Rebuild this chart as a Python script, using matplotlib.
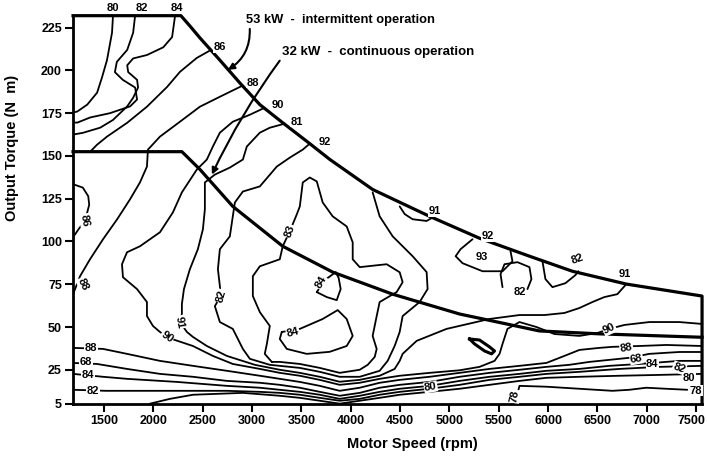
import matplotlib
matplotlib.use("Agg")
import matplotlib.pyplot as plt
from matplotlib.transforms import ScaledTranslation

plt.rcParams["font.family"] = ["Liberation Sans", "DejaVu Sans"]

# ---- axis ticks ----
speed_ticks = [1500, 2000, 2500, 3000, 3500, 4000, 4500, 5000, 5500, 6000, 6500, 7000, 7500]
torque_ticks = [5, 25, 50, 75, 100, 125, 150, 175, 200, 225]

# ---- operating envelopes (rpm, N m) ----
speed_53kw = [1186, 2279, 2370, 2472, 2674, 2876, 3079, 3311, 3585, 3787, 4222, 4799,
              5305, 5811, 6246, 6793, 7177, 7560, 7560]
torque_53kw = [232, 232, 226, 219, 206, 192.7, 180, 169.4, 157.2, 148, 130.4, 114.7,
               101.9, 91.4, 82.6, 75.1, 71.6, 68.1, 5]
speed_32kw = [1186, 2289, 2472, 2805, 3311, 3817, 4424, 5103, 5912, 6520, 7560]
torque_32kw = [152.5, 152.5, 142.1, 120.5, 97.2, 82.1, 69.2, 57.6, 47.7, 46, 44]

# ---- efficiency contours (rpm, N m) ----
c80_top_rpm = [1591, 1581, 1530, 1480, 1430, 1330, 1230, 1186]
c80_top_nm = [232, 222, 206, 196, 187, 180, 176, 175.3]

c82_top_rpm = [1815, 1795, 1735, 1630, 1610, 1690, 1815, 1835, 1765, 1560, 1360, 1230, 1186]
c82_top_nm = [232, 222, 212, 205, 199, 194.5, 190, 183, 179, 175, 172.5, 169.5, 169.5]

c84_top_rpm = [2220, 2190, 2100, 1935, 1795, 1735, 1745, 1835, 1845, 1795, 1735, 1590,
               1460, 1285, 1186]
c84_top_nm = [232, 219.5, 213.5, 209, 207, 203, 199, 194.5, 190, 184, 179, 171, 166.5,
              163.5, 162.5]

c86_top_rpm = [2585, 2440, 2270, 2140, 1935, 1735, 1530, 1430, 1360]
c86_top_nm = [212, 207.3, 199.2, 190.4, 178.8, 169.4, 161.3, 156.6, 152.5]

c86_left_rpm = [1186, 1285, 1340, 1350, 1330, 1305, 1240, 1205, 1186]
c86_left_nm = [133.5, 131.5, 126.5, 121.5, 117, 112, 107, 104, 103]

c88_top_rpm = [2900, 2674, 2472, 2269, 2067, 1945, 1935, 1864, 1763, 1632, 1490, 1358,
               1257, 1207, 1186]
c88_top_nm = [191, 184.6, 178.8, 170, 161.3, 153.7, 143.8, 134.5, 124.6, 112.9, 101.3,
              89.6, 79.7, 72.2, 69.2]

c90_rpm = [3129, 2978, 2805, 2674, 2603, 2542, 2441, 2289, 2198, 2067, 1864, 1733, 1682,
           1692, 1834, 1935, 1935, 1996, 2067, 2138, 2219, 2401, 2603, 2805, 3079, 3281,
           3484, 3686, 3888, 4091, 4293, 4496, 4799, 5103, 5305, 5457, 5508, 5538, 5588,
           5710, 5882, 6064, 6317, 6499, 6621, 6773, 7026, 7329, 7560]
c90_nm = [178.2, 174.1, 170, 163.6, 155.5, 147.9, 142.1, 128.7, 117, 105.4, 97.2, 93.7,
          86.7, 79.1, 72.2, 64.6, 56.4, 50.6, 47.1, 44.2, 42.4, 38.9, 33.1, 28.4, 25.5,
          23.2, 21.5, 19.1, 16.2, 17.4, 19.7, 21.5, 23.2, 24.7, 26.7, 30.2, 34.3, 40.1,
          48.9, 52.9, 50, 45.9, 44.8, 46.5, 48.9, 51.2, 52.9, 52.9, 51.8]

c91_rpm = [3332, 3180, 3079, 2947, 2907, 2775, 2623, 2522, 2522, 2502, 2451, 2370, 2310,
           2289, 2289, 2269, 2340, 2401, 2542, 2745, 3028, 3281, 3484, 3686, 3888, 4091,
           4293, 4445, 4496, 4526, 4668, 4971, 5406, 5710, 5963, 6165, 6317, 6449, 6570,
           6702, 6793]
c91_nm = [168.9, 166.5, 163.6, 155.5, 147.9, 143.2, 139.1, 134.5, 118.8, 107.1, 95.5,
          83.8, 72.2, 63.4, 57.6, 52.9, 47.1, 44.2, 38.9, 33.1, 27.9, 25, 23.2, 20.9, 18,
          19.1, 21.5, 25.5, 30.2, 34.3, 41.9, 48.9, 54.7, 57, 57, 58.2, 61.1, 64.6, 67.5,
          69.2, 75.1]

c92_rpm = [3585, 3514, 3382, 3251, 3079, 2907, 2826, 2805, 2775, 2674, 2654, 2674, 2684,
           2623, 2674, 2805, 2907, 2978, 3180, 3484, 3686, 3888, 4091, 4293, 4374, 4445,
           4496, 4526, 4698, 4779, 4769, 4627, 4425, 4293, 4222]
c92_nm = [157.2, 153.7, 149, 143.8, 132.2, 129.2, 122.8, 114.7, 103, 95.5, 83.8, 73.9,
          68.1, 62.2, 52.9, 48.9, 37.2, 31.4, 27.9, 26.1, 23.8, 20.9, 20.9, 24.4, 30.2,
          38.9, 47.1, 56.4, 64.6, 72.2, 82.1, 91.4, 103, 114.7, 128.7]

c93_rpm = [3200, 3129, 3150, 3180, 3079, 3008, 3008, 3079, 3281, 3311, 3382, 3453, 3484,
           3514, 3585, 3656, 3716, 3817, 3959, 4020, 4020, 4091, 4364, 4496, 4526, 4465,
           4293, 4263, 4222, 4263, 4243, 4172, 4091, 3888, 3686, 3484, 3281, 3200]
c93_nm = [29.6, 34.3, 40.1, 50.6, 58.7, 68.1, 79.7, 85.5, 89.6, 97.2, 105.9, 115.8, 120.5,
          134.5, 137.4, 135.1, 122.8, 114.7, 108.8, 99.5, 89.6, 85, 86.7, 82, 76.2, 70.4,
          64.6, 56.4, 44.8, 37.2, 32.5, 27.9, 25, 23.2, 26.1, 28.4, 29.6, 29.6]

c94_small_rpm = [3656, 3757, 3858, 3898, 3878, 3848, 3737, 3656]
c94_small_nm = [70.4, 67.5, 65.7, 72.2, 78.6, 82.1, 77.4, 70.4]

c94_low_rpm = [3301, 3484, 3716, 3868, 3959, 4020, 3959, 3787, 3554, 3352, 3281, 3301]
c94_low_nm = [47.1, 48.9, 54.7, 59.9, 54.7, 44.8, 38.9, 35.5, 34.3, 37.2, 43, 47.1]

c91_notch_rpm = [4496, 4547, 4627, 4769, 4830]
c91_notch_nm = [120.5, 116, 113, 112, 114]

c93_pocket_rpm = [5234, 5113, 5063, 5133, 5336, 5538, 5639, 5619]
c93_pocket_nm = [101.3, 95.5, 91.4, 87.3, 82.6, 82.6, 88.4, 94.3]

c92_arch_rpm = [5538, 5518, 5558, 5690, 5811, 5831, 5791]
c92_arch_nm = [73.3, 80.9, 86.7, 87.9, 85, 78, 72.2]

c92_notch_rpm = [5943, 5973, 6044, 6175, 6276, 6307]
c92_notch_nm = [88.4, 78, 73.3, 75.6, 80.3, 82.6]

c_islet_rpm = [5204, 5305, 5406, 5457, 5427, 5356, 5255, 5204]
c_islet_nm = [43, 42.4, 38.4, 36, 34.3, 36, 40.1, 43]

c88_low_rpm = [1186, 1490, 1733, 2067, 2401, 2745, 3079, 3281, 3484, 3686, 3888, 4091,
               4293, 4496, 4799, 5103, 5406, 5710, 5983, 6165, 6317, 6520, 6651, 6924,
               7197, 7560]
c88_low_nm = [37.8, 37.2, 34.3, 30.2, 27.3, 24.4, 21.5, 19.7, 17.9, 15.6, 12.7, 14.5,
              17.4, 19.1, 20.9, 23.2, 25.5, 27.3, 29, 33.1, 36.6, 37.8, 38.4, 38.9, 39.5,
              38.9]

c86_low_rpm = [1186, 1429, 1733, 2067, 2401, 2745, 3079, 3281, 3484, 3686, 3888, 4091,
               4293, 4496, 4799, 5103, 5406, 5710, 5983, 6216, 6418, 6621, 6823, 7026,
               7329, 7560]
c86_low_nm = [29, 28.4, 25.5, 22.6, 20.9, 18.5, 17.4, 16.2, 14.5, 12.1, 9.8, 11.5, 14.5,
              16.2, 17.9, 20.9, 23.2, 25, 26.7, 27.9, 29.6, 30.8, 32, 34.3, 35.4, 35.4]

c84_low_rpm = [1186, 1490, 1733, 2239, 2745, 3079, 3281, 3484, 3686, 3888, 4091, 4293,
               4496, 4799, 5103, 5406, 5710, 5983, 6317, 6621, 6924, 7329, 7560]
c84_low_nm = [22.6, 20.9, 19.7, 17.9, 15.6, 14.5, 13.3, 12.1, 10.4, 8, 9.8, 12.1, 13.9,
              15.6, 18.5, 20.9, 22.6, 24.4, 25.5, 27.3, 28.4, 30.2, 30.2]

c82_low_rpm = [1186, 1520, 2067, 2745, 3079, 3281, 3484, 3686, 3888, 4091, 4293, 4496,
               4799, 5103, 5406, 5710, 5983, 6317, 6722, 7127, 7560]
c82_low_nm = [13.3, 12.7, 12.7, 12.7, 12.1, 11.5, 10.4, 8.6, 6.9, 8, 10.4, 12.1, 13.9,
              16.2, 19.1, 20.9, 22.6, 23.8, 25.5, 26.7, 27.3]

c80_low_rpm = [1966, 2168, 2401, 2907, 3281, 3484, 3686, 3888, 4091, 4293, 4496, 4799,
               5103, 5406, 5710, 5983, 6317, 6722, 7127, 7560]
c80_low_nm = [5.2, 8, 10.4, 11.5, 9.8, 8.6, 6.9, 5.2, 6.9, 8.6, 10.4, 12.1, 13.9, 16.2,
              18.5, 20.3, 20.9, 21.5, 22, 22.6]

c78_rpm = [5680, 5710, 5983, 6317, 6651, 6823, 6995, 7197, 7410]
c78_nm = [9.0, 15.6, 15.1, 13.9, 12.7, 13.3, 14.5, 13.9, 13.3]

contour_lines = [
    (c80_top_rpm, c80_top_nm), (c82_top_rpm, c82_top_nm), (c84_top_rpm, c84_top_nm),
    (c86_top_rpm, c86_top_nm), (c86_left_rpm, c86_left_nm), (c88_top_rpm, c88_top_nm),
    (c90_rpm, c90_nm), (c91_rpm, c91_nm), (c92_rpm, c92_nm), (c93_rpm, c93_nm),
    (c94_small_rpm, c94_small_nm), (c94_low_rpm, c94_low_nm),
    (c91_notch_rpm, c91_notch_nm), (c93_pocket_rpm, c93_pocket_nm),
    (c92_arch_rpm, c92_arch_nm), (c92_notch_rpm, c92_notch_nm),
    (c88_low_rpm, c88_low_nm), (c86_low_rpm, c86_low_nm), (c84_low_rpm, c84_low_nm),
    (c82_low_rpm, c82_low_nm), (c80_low_rpm, c80_low_nm), (c78_rpm, c78_nm),
]

# ---- contour labels: text, rpm, N m, rotation ----
label_text = ["80", "82", "84", "86", "88", "90", "81", "92",
              "91", "92", "93", "82", "82", "91",
              "90", "88", "68", "84", "82", "80", "78", "78", "80",
              "88", "68", "84", "82",
              "90", "91", "82", "83", "84", "84", "88", "86"]
label_rpm = [1591, 1885, 2240, 2674, 3008, 3261, 3453, 3737,
             4850, 5386, 5330, 5710, 6297, 6773,
             6621, 6793, 6894, 7056, 7329, 7430, 7500, 5660, 4810,
             1369, 1318, 1338, 1389,
             2138, 2269, 2684, 3382, 3700, 3413, 1287, 1308]
label_nm = [236.4, 236.4, 236.4, 213.7, 192.7, 180, 170, 158.4,
            117.6, 103, 90.8, 70.4, 89.6, 80.9,
            48.9, 37.8, 31.4, 28.5, 26.1, 20.3, 12.7, 9.5, 15,
            37.8, 29.6, 22, 12.7,
            44.2, 52.9, 68.1, 106, 76, 47, 75, 112.4]
label_rot = [0, 0, 0, 0, 0, 0, 0, 0,
             0, 0, 0, 0, 20, 0,
             25, 10, 10, 0, -20, 0, 0, 80, 10,
             0, 0, 0, 0,
             -35, -80, 75, 70, 60, 15, -65, -80]

fig = plt.figure(figsize=(7.07, 4.57), dpi=100)
ax = fig.add_axes([0.1033, 0.116, 0.8897, 0.8497])

for rpm, nm in contour_lines:
    ax.plot(rpm, nm, color="black", lw=1.3, solid_joinstyle="round",
            solid_capstyle="round", zorder=2)
ax.plot(c_islet_rpm, c_islet_nm, color="black", lw=2.2, zorder=2)

ax.plot(speed_53kw, torque_53kw, color="black", lw=2.3, clip_on=False, zorder=3,
        solid_joinstyle="round")
ax.plot(speed_32kw, torque_32kw, color="black", lw=2.3, clip_on=False, zorder=3,
        solid_joinstyle="round")

for t, x, y, r in zip(label_text, label_rpm, label_nm, label_rot):
    ax.text(x, y, t, fontsize=8, fontweight="bold", rotation=r, ha="center",
            va="center", clip_on=False, zorder=4,
            bbox=dict(boxstyle="square,pad=0.05", fc="white", ec="none"))

ax.annotate("53 kW  -  intermittent operation", xy=(2755, 200.3), xytext=(2937, 229.4),
            fontsize=9.3, fontweight="bold", ha="left", va="center", annotation_clip=False,
            arrowprops=dict(arrowstyle="-|>", color="black", lw=1.5,
                            connectionstyle="arc3,rad=-0.3", shrinkA=0, shrinkB=0,
                            relpos=(0.02, 0.0)))
ax.annotate("32 kW  -  continuous operation", xy=(2593, 139.1), xytext=(3301, 210.8),
            fontsize=9.5, fontweight="bold", ha="left", va="center", annotation_clip=False,
            arrowprops=dict(arrowstyle="-|>", color="black", lw=1.5,
                            connectionstyle="arc3,rad=0.05", shrinkA=0, shrinkB=0,
                            relpos=(0.0, 0.0)))

ax.set_xlim(1186, 7560)
ax.set_ylim(5, 232)
ax.set_xticks(speed_ticks)
ax.set_yticks(torque_ticks)
ax.tick_params(direction="out", length=6, width=1.5, labelsize=9, pad=2)
for lab in ax.get_xticklabels() + ax.get_yticklabels():
    lab.set_fontweight("bold")
# keep the last speed label inside the figure edge
last = ax.get_xticklabels()[-1]
last.set_transform(last.get_transform() + ScaledTranslation(-5 / 100, 0, fig.dpi_scale_trans))

ax.spines["top"].set_visible(False)
ax.spines["right"].set_visible(False)
ax.spines["left"].set_linewidth(2)
ax.spines["bottom"].set_linewidth(2)
ax.set_xlabel("Motor Speed (rpm)", fontsize=10.5, fontweight="bold")
ax.set_ylabel("Output Torque (N  m)", fontsize=10.5, fontweight="bold")
ax.xaxis.set_label_coords(0.54, -0.085)
ax.yaxis.set_label_coords(-0.086, 0.66)

fig.savefig("out.png", dpi=100)
